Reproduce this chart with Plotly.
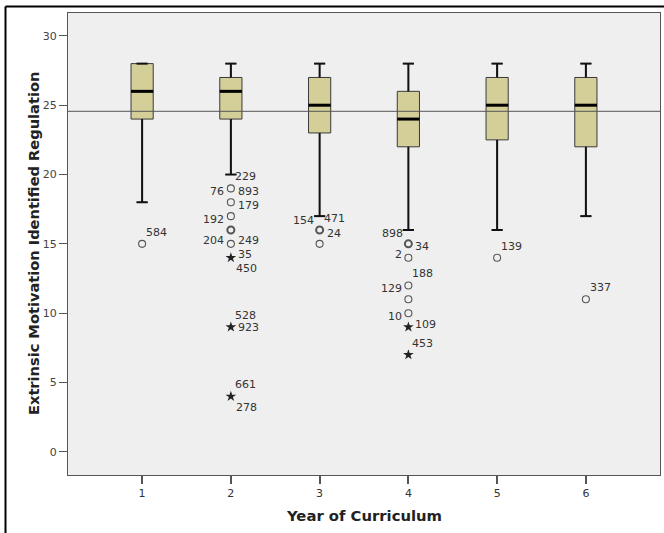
import plotly.graph_objects as go

# ---------------- data ----------------
years = [1, 2, 3, 4, 5, 6]
year_labels = ["1", "2", "3", "4", "5", "6"]
lower_whisker = [18, 20, 17, 16, 16, 17]
q1 = [24, 24, 23, 22, 22.5, 22]
median = [26, 26, 25, 24, 25, 25]
q3 = [28, 27, 27, 26, 27, 27]
upper_whisker = [28, 28, 28, 28, 28, 28]
reference_value = 24.56

# outliers: (year, value, kind, bold, [(case label, position code), ...])
outliers_g1 = [(1, 15, "o", False, [("584", "ar")])]
outliers_g2 = [
    (2, 19, "o", False, [("229", "ar"), ("893", "r"), ("76", "l")]),
    (2, 18, "o", False, [("179", "r")]),
    (2, 17, "o", False, [("192", "l")]),
    (2, 16, "o", True, []),
    (2, 15, "o", False, [("204", "L"), ("249", "R")]),
    (2, 14, "*", False, [("35", "R"), ("450", "br")]),
    (2, 9, "*", False, [("528", "ar"), ("923", "r0")]),
    (2, 4, "*", False, [("661", "ar"), ("278", "br")]),
]
outliers_g3 = [
    (3, 16, "o", True, [("471", "ar"), ("24", "r"), ("154", "al")]),
    (3, 15, "o", False, []),
]
outliers_g4 = [
    (4, 15, "o", True, [("898", "al"), ("34", "r")]),
    (4, 14, "o", False, [("2", "L")]),
    (4, 12, "o", False, [("188", "ar"), ("129", "l")]),
    (4, 11, "o", False, []),
    (4, 10, "o", False, [("10", "l")]),
    (4, 9, "*", False, [("109", "R")]),
    (4, 7, "*", False, [("453", "ar")]),
]
outliers_g5 = [(5, 14, "o", False, [("139", "ar")])]
outliers_g6 = [(6, 11, "o", False, [("337", "ar")])]
all_outliers = outliers_g1 + outliers_g2 + outliers_g3 + outliers_g4 + outliers_g5 + outliers_g6

y_title = "Extrinsic Motivation Identified Regulation"
x_title = "Year of Curriculum"

# ---------------- styling ----------------
W, H = 664, 533
ML, MR, MT, MB = 68, 4, 13, 58
BOX_W = 0.25
CAP_HALF = 0.0625
FONT = "DejaVu Sans"

fig = go.Figure()

fig.add_trace(go.Box(
    x=years, q1=q1, median=median, q3=q3,
    lowerfence=lower_whisker, upperfence=upper_whisker,
    width=BOX_W, whiskerwidth=0.5,
    fillcolor="#d4cf98", line=dict(color="#3a3a3a", width=1),
    boxpoints=False, hoverinfo="skip", showlegend=False,
))

# whiskers (heavier, black)
wx, wy = [], []
for x, lw, a, b, uw in zip(years, lower_whisker, q1, q3, upper_whisker):
    wx += [x, x, None, x, x, None,
           x - CAP_HALF, x + CAP_HALF, None, x - CAP_HALF, x + CAP_HALF, None]
    wy += [lw, a, None, b, uw, None, lw, lw, None, uw, uw, None]
fig.add_trace(go.Scatter(x=wx, y=wy, mode="lines",
                         line=dict(color="#111", width=2),
                         hoverinfo="skip", showlegend=False))

# medians (thick)
mx, my = [], []
for x, m in zip(years, median):
    mx += [x - BOX_W / 2, x + BOX_W / 2, None]
    my += [m, m, None]
fig.add_trace(go.Scatter(x=mx, y=my, mode="lines",
                         line=dict(color="#000", width=3),
                         hoverinfo="skip", showlegend=False))

# outlier markers
for kind, bold in [("o", False), ("o", True), ("*", False)]:
    pts = [(o[0], o[1]) for o in all_outliers if o[2] == kind and o[3] == bold]
    if not pts:
        continue
    if kind == "o":
        marker = dict(symbol="circle-open", size=7,
                      line=dict(color="#333" if bold else "#555", width=2 if bold else 1.1),
                      color="#555")
    else:
        marker = dict(symbol="star", size=8, color="#222", line=dict(width=0))
    fig.add_trace(go.Scatter(x=[p[0] for p in pts], y=[p[1] for p in pts],
                             mode="markers", marker=marker,
                             hoverinfo="skip", showlegend=False))

# outlier case labels
pos = {
    "ar": (2, 11.5, "left"),
    "r": (5, -3, "left"),
    "r0": (5, 0, "left"),
    "R": (5, 3, "left"),
    "l": (-4.5, -3, "right"),
    "L": (-4.5, 3, "right"),
    "al": (-3.5, 10, "right"),
    "br": (3, -11, "left"),
}
for x, v, kind, bold, labs in all_outliers:
    for text, code in labs:
        dx, dy, anchor = pos[code]
        fig.add_annotation(x=x, y=v, xref="x", yref="y", text=text,
                           showarrow=False, xanchor=anchor, yanchor="middle",
                           xshift=dx, yshift=dy,
                           font=dict(family=FONT, size=11, color="#333"))

# reference line
fig.add_shape(type="line", xref="paper", yref="y", x0=0, x1=1,
              y0=reference_value, y1=reference_value,
              line=dict(color="#555", width=1), layer="above")

# outer frame (left and top edges of the chart border)
pw = W - ML - MR
ph = H - MT - MB
fx = (5.5 - ML) / pw
fy = (H - MB - 6.5) / ph
fig.add_shape(type="line", xref="paper", yref="paper", x0=fx, x1=fx, y0=-0.3, y1=fy,
              line=dict(color="#000", width=2))
fig.add_shape(type="line", xref="paper", yref="paper", x0=fx, x1=1.2, y0=fy, y1=fy,
              line=dict(color="#000", width=2))

# axis titles
fig.add_annotation(x=0.5, y=0, xref="paper", yref="paper", text=f"<b>{x_title}</b>",
                   showarrow=False, xanchor="center", yanchor="middle", yshift=-40,
                   font=dict(family=FONT, size=14.8, color="#222"))
fig.add_annotation(x=0, y=0.5, xref="paper", yref="paper", text=f"<b>{y_title}</b>",
                   showarrow=False, xanchor="center", yanchor="middle", xshift=-35,
                   textangle=-90,
                   font=dict(family=FONT, size=14.6, color="#222"))

fig.update_layout(
    width=W, height=H,
    margin=dict(l=ML, r=MR, t=MT, b=MB),
    paper_bgcolor="white", plot_bgcolor="#efefef",
    showlegend=False,
    xaxis=dict(range=[0.165, 6.835], tickmode="array", tickvals=years, ticktext=year_labels,
               ticks="outside", ticklen=8, tickcolor="#555", tickwidth=1.5,
               showgrid=False, zeroline=False, showline=True, linecolor="#555",
               linewidth=1, mirror=True,
               tickfont=dict(family=FONT, size=11, color="#333")),
    yaxis=dict(range=[-1.67, 31.65], tickmode="array", tickvals=[0, 5, 10, 15, 20, 25, 30],
               ticks="outside", ticklen=8, tickcolor="#555", tickwidth=1,
               showgrid=False, zeroline=False, showline=True, linecolor="#555",
               linewidth=1, mirror=True,
               tickfont=dict(family=FONT, size=11, color="#444")),
)

fig.write_html("out.html", config={"displayModeBar": False},
               post_script="document.body.style.margin='0';document.body.style.padding='0';")
